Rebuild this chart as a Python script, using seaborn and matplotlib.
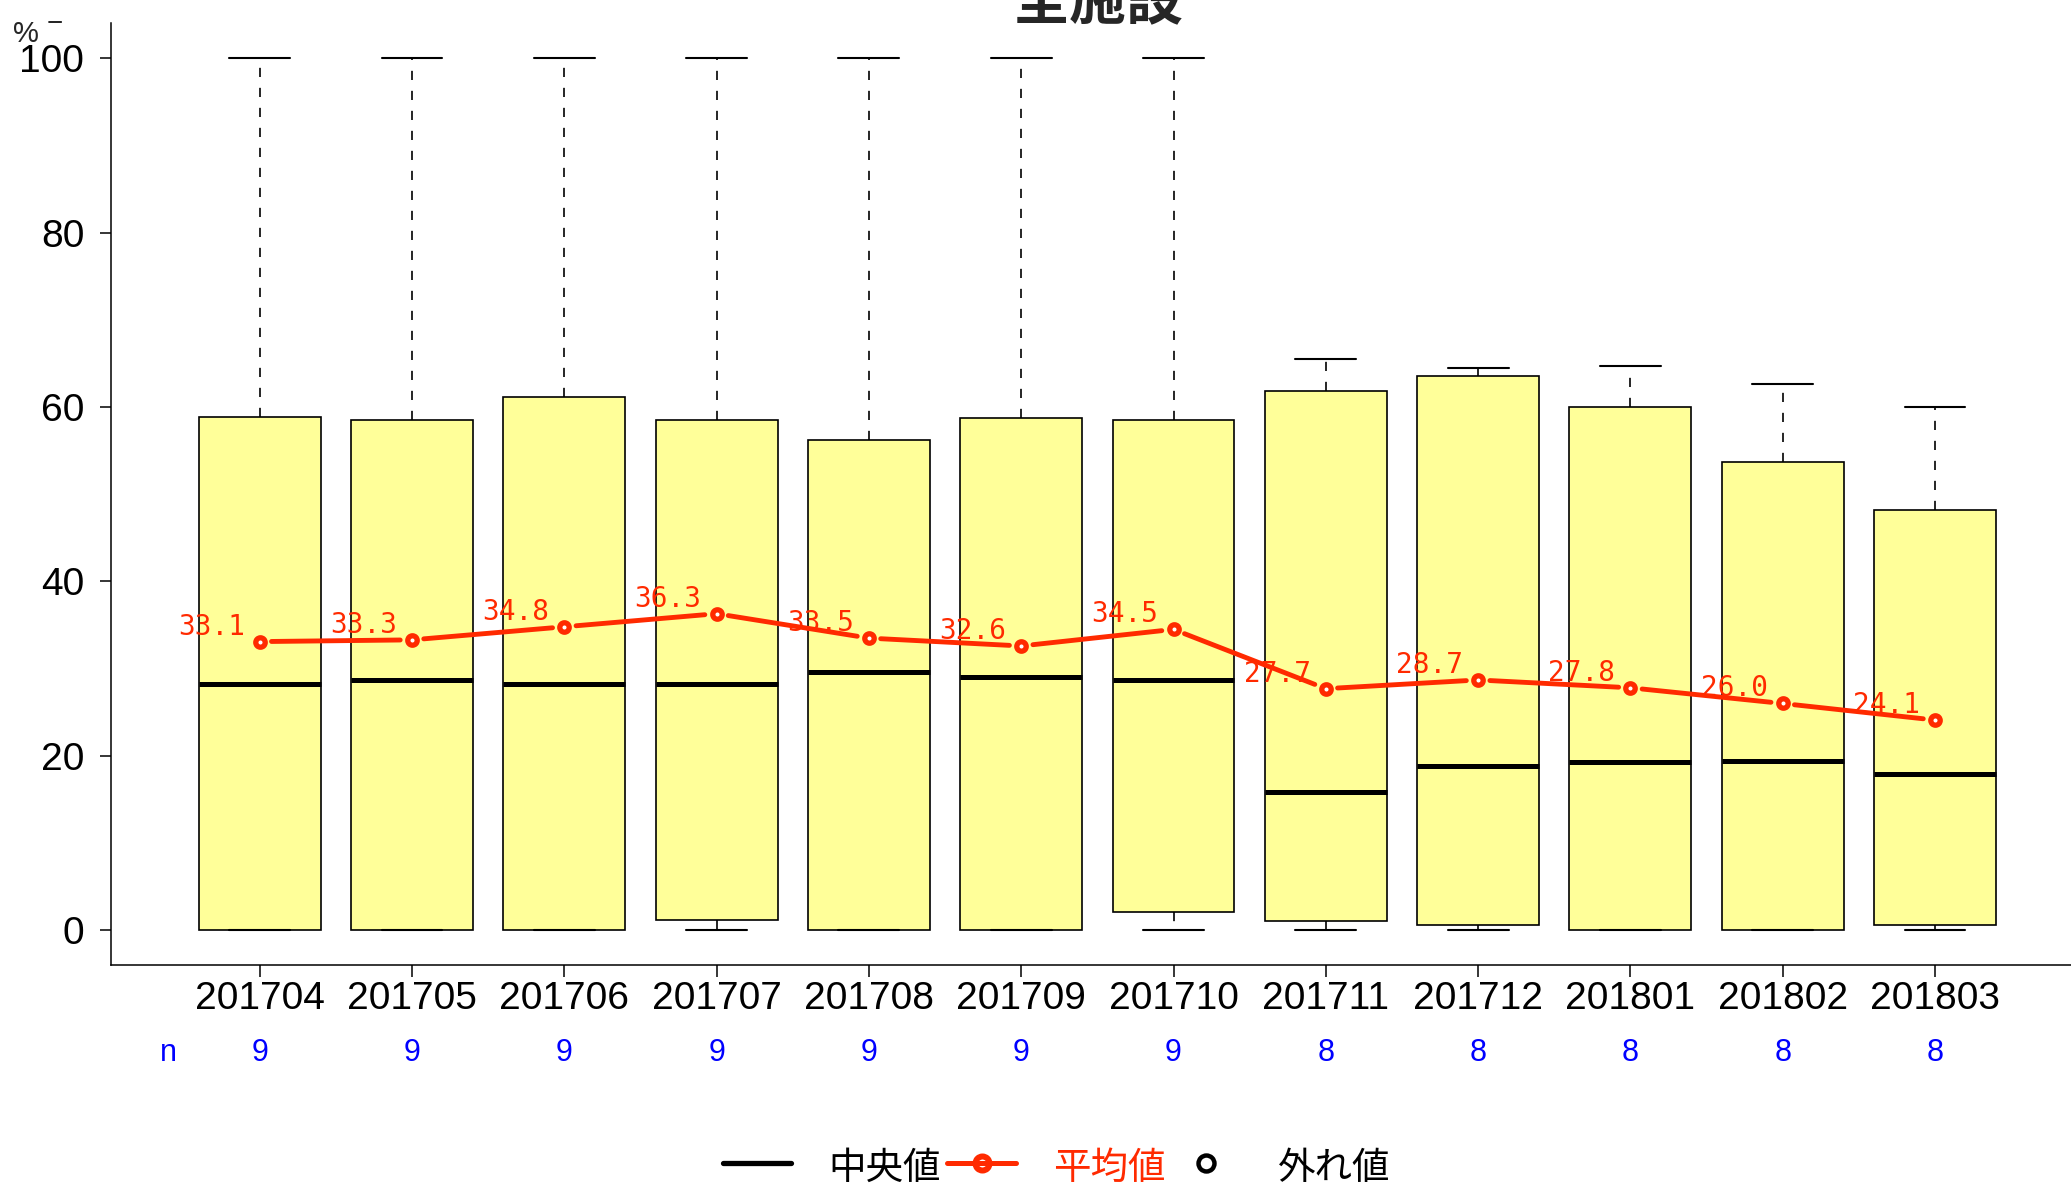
import numpy as np
import pandas as pd
import matplotlib
matplotlib.use("Agg")
import matplotlib.pyplot as plt
import matplotlib.transforms as mtransforms
from matplotlib.lines import Line2D
from matplotlib import font_manager
import seaborn as sns

# ---- data -------------------------------------------------------------
months = ["201704", "201705", "201706", "201707", "201708", "201709",
          "201710", "201711", "201712", "201801", "201802", "201803"]
whisker_low = [0.0, 0.0, 0.0, 0.0, 0.0, 0.0, 0.0, 0.0, 0.0, 0.0, 0.0, 0.0]
box_low = [0.0, 0.0, 0.0, 1.2, 0.0, 0.0, 2.1, 1.1, 0.6, 0.0, 0.0, 0.6]
medians = [28.2, 28.7, 28.2, 28.2, 29.6, 29.0, 28.7, 15.8, 18.8, 19.3, 19.4, 17.9]
box_high = [58.9, 58.5, 61.2, 58.5, 56.2, 58.8, 58.5, 61.8, 63.6, 60.0, 53.7, 48.2]
whisker_high = [100.0, 100.0, 100.0, 100.0, 100.0, 100.0, 100.0,
                65.5, 64.5, 64.7, 62.6, 60.0]
means = [33.1, 33.3, 34.8, 36.3, 33.5, 32.6, 34.5, 27.7, 28.7, 27.8, 26.0, 24.1]
counts = [9, 9, 9, 9, 9, 9, 9, 8, 8, 8, 8, 8]
y_ticks = [0, 20, 40, 60, 80, 100]

title = "全施設"
legend_labels = ["中央値", "平均値", "外れ値"]

# five-number summaries as long-form rows (quartiles of five sorted
# values fall exactly on the 2nd and 4th entries)
rows = []
for m, a, b, c, d, e in zip(months, whisker_low, box_low, medians, box_high, whisker_high):
    for v in (a, b, c, d, e):
        rows.append({"month": m, "value": v})
df = pd.DataFrame(rows)

# ---- style ------------------------------------------------------------
BOX_FILL = "#FFFF99"
RED = "#FF2A00"
BLUE = "#0000FF"

sns.set_style("ticks")
installed = {f.name for f in font_manager.fontManager.ttflist}


def families(*names):
    return [n for n in names if n in installed] + ["DejaVu Sans"]


LATIN = families("Liberation Sans", "Arial")
CJK = families("Noto Sans CJK JP", "Noto Sans CJK SC")
MONO = families("DejaVu Sans Mono", "Liberation Mono")
plt.rcParams["font.family"] = LATIN

W, H = 2071, 1184
fig = plt.figure(figsize=(W / 100, H / 100), dpi=100)
fig.patch.set_facecolor("white")


def fx(px):
    return px / W


def fy(py):
    return 1 - py / H


ax = fig.add_axes([fx(110.7), fy(965), 1 - fx(110.7), (965 - 22.7) / H])

sns.boxplot(
    data=df, x="month", y="value", order=months, ax=ax,
    whis=(0, 100), width=0.8, color=BOX_FILL, saturation=1,
    linecolor="black", linewidth=1.2, showfliers=False, capwidths=0.4,
    medianprops=dict(linewidth=3.6, color="black", solid_capstyle="butt"),
    whiskerprops=dict(linestyle=(0, (5.5, 6.5)), linewidth=1.2, color="black"),
    capprops=dict(linewidth=1.5, color="black"),
)

# mean markers
sns.pointplot(
    x=months, y=means, order=months, ax=ax, color=RED, errorbar=None,
    linestyle="none", marker="o", markersize=6.8, markeredgewidth=3.8,
    markerfacecolor="white", zorder=6,
)

# mean line segments with a small gap around each point
for i in range(len(means) - 1):
    ax.annotate(
        "", xy=(i + 1, means[i + 1]), xytext=(i, means[i]),
        arrowprops=dict(arrowstyle="-", color=RED, lw=3.5,
                        shrinkA=8.5, shrinkB=8.5, capstyle="round"),
        zorder=5,
    )

# mean value labels
for i, m in enumerate(means):
    ax.annotate(
        f"{m:.1f}", xy=(i, m), xytext=(-15, 7), textcoords="offset pixels",
        ha="right", va="baseline", color=RED, fontsize=20, family=MONO,
        zorder=7,
    )

# axes
ax.set_xlim((110.7 - 259.7) / 152.3, (W - 259.7) / 152.3)
ax.set_ylim(-4.0, 104.1)
ax.set_yticks(y_ticks)
ax.set_yticklabels([str(t) for t in y_ticks])
ax.set_xlabel("")
ax.set_ylabel("")
for side in ("top", "right"):
    ax.spines[side].set_visible(False)
for side in ("left", "bottom"):
    ax.spines[side].set_linewidth(1.1)
    ax.spines[side].set_color("black")
ax.tick_params(axis="both", colors="black", width=1.1, labelsize=28, direction="out")
ax.tick_params(axis="y", length=8, pad=11)
ax.tick_params(axis="x", length=8.6, pad=3)

# sample sizes
trans = mtransforms.blended_transform_factory(ax.transData, fig.transFigure)
for i, c in enumerate(counts):
    ax.text(i, fy(1061), str(c), transform=trans, ha="center", va="baseline",
            color=BLUE, fontsize=22)
fig.text(fx(168), fy(1061), "n", ha="center", va="baseline", color=BLUE, fontsize=22)

# unit label
fig.text(fx(13), fy(42), "%", ha="left", va="baseline", fontsize=21)
fig.text(fx(54.5), fy(31), "−", ha="center", va="baseline", fontsize=20)

# title
fig.text(fx(1098), fy(19), title, ha="center", va="baseline", fontsize=41,
         fontweight="bold", family=CJK)

# legend
ly = fy(1163)
fig.add_artist(Line2D([fx(722.5), fx(790.5)], [ly, ly], color="black", lw=3.8,
                      solid_capstyle="round"))
fig.text(fx(828), fy(1179), legend_labels[0], ha="left", va="baseline",
         fontsize=27, family=CJK, color="black")
fig.add_artist(Line2D([fx(947), fx(1016)], [ly, ly], color=RED, lw=3.6,
                      solid_capstyle="round"))
fig.add_artist(Line2D([fx(982)], [ly], marker="o", markersize=10.1,
                      markeredgewidth=4.3, markerfacecolor="none",
                      markeredgecolor=RED, linestyle="none"))
fig.text(fx(1053), fy(1179), legend_labels[1], ha="left", va="baseline",
         fontsize=27, family=CJK, color=RED)
fig.add_artist(Line2D([fx(1206)], [ly], marker="o", markersize=11.5,
                      markeredgewidth=3.2, markerfacecolor="none",
                      markeredgecolor="black", linestyle="none"))
fig.text(fx(1278), fy(1179), legend_labels[2], ha="left", va="baseline",
         fontsize=27, family=CJK, color="black")

fig.savefig("out.png", dpi=100, facecolor="white")
